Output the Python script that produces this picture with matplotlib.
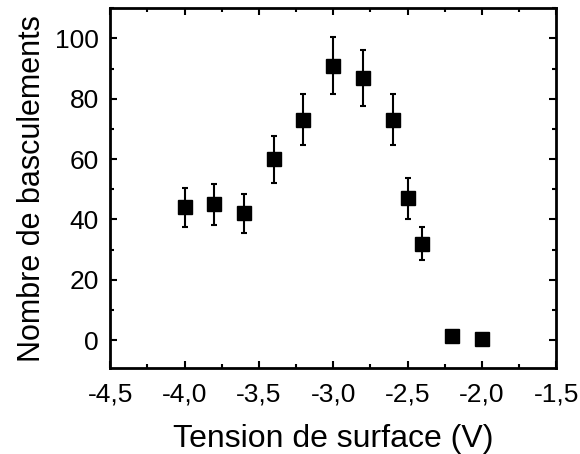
import matplotlib.pyplot as plt
from matplotlib.ticker import MultipleLocator, FuncFormatter

plt.rcParams['font.family'] = ['Liberation Sans', 'DejaVu Sans']

# tension de surface (V), nombre de basculements, barre d'erreur
tension = [-4.0, -3.8, -3.6, -3.4, -3.2, -3.0, -2.8, -2.6, -2.5, -2.4, -2.2, -2.0]
basculements = [44, 45, 42, 60, 73, 91, 87, 73, 47, 32, 1.4, 0.3]
erreur = [6.5, 6.8, 6.5, 7.8, 8.5, 9.5, 9.3, 8.5, 6.8, 5.6, 1.0, 0.0]

fig = plt.figure(figsize=(5.8, 4.54), dpi=100)
ax = fig.add_axes([0.19, 0.189, 0.769, 0.793])

ax.errorbar(tension, basculements, yerr=erreur, fmt='s', color='black',
            markersize=10.5, elinewidth=1.5, capsize=2.5, capthick=1.5)

ax.set_xlim(-4.5, -1.5)
ax.set_ylim(-9.3, 110)
ax.xaxis.set_major_locator(MultipleLocator(0.5))
ax.xaxis.set_minor_locator(MultipleLocator(0.25))
ax.yaxis.set_major_locator(MultipleLocator(20))
ax.yaxis.set_minor_locator(MultipleLocator(10))
ax.xaxis.set_major_formatter(FuncFormatter(lambda v, p: f"{v:.1f}".replace('.', ',')))

ax.tick_params(which='both', direction='in', top=True, right=True, width=1.5,
               labelsize=19)
ax.tick_params(which='major', length=5, pad=8)
ax.tick_params(axis='x', which='major', pad=10)
ax.tick_params(which='minor', length=3)
for s in ax.spines.values():
    s.set_linewidth(2)

ax.set_xlabel("Tension de surface (V)", fontsize=23, labelpad=13)
ax.set_ylabel("Nombre de basculements", fontsize=22, labelpad=6)

fig.savefig("out.png", dpi=100)
